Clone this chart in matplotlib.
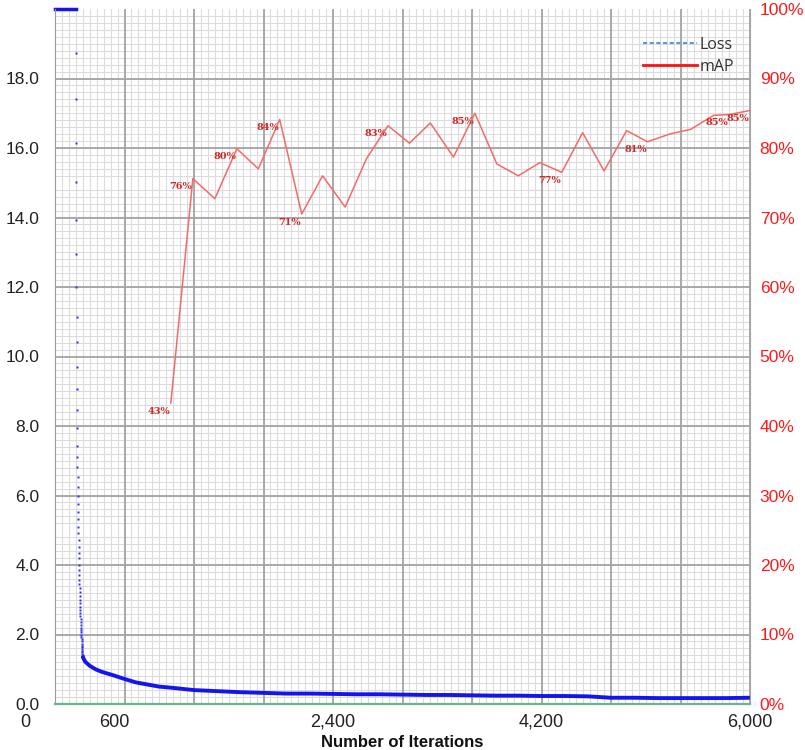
import numpy as np
import matplotlib
matplotlib.use("Agg")
import matplotlib.pyplot as plt
from matplotlib.ticker import MultipleLocator, FuncFormatter
from matplotlib.lines import Line2D

# loss above the chart top is clipped (darknet style) -> drawn at the max
loss_clip_iters = [0, 178]
loss_clip_vals = [20, 20]

# first iterations after the clip: one value per iteration
loss_start_iter = 179
loss_early = [18.73, 17.41, 16.14, 15.02, 13.93, 12.95, 12.0, 11.14, 10.42, 9.70,
              9.06, 8.46, 7.94, 7.42, 7.11, 6.82, 6.53, 6.24, 5.99, 5.76,
              5.53, 5.32, 5.09, 4.92, 4.72, 4.52, 4.35, 4.20, 4.0, 3.86,
              3.71, 3.57, 3.45, 3.33, 3.22, 3.11, 3.0, 2.90, 2.80, 2.70,
              2.61, 2.52, 2.44, 2.36, 2.28, 2.20, 2.13, 2.06, 1.99, 1.92,
              1.86, 1.80, 1.74, 1.68, 1.63, 1.58, 1.53, 1.49, 1.45, 1.41, 1.38]

# rest of the loss curve
loss_iters = [240, 260, 300, 350, 400, 500, 600, 700, 800, 900, 1000, 1200, 1400,
              1600, 1800, 2000, 2200, 2400, 2600, 2800, 3000, 3200, 3400, 3600,
              3800, 4000, 4200, 4400, 4600, 4800, 5000, 5200, 5400, 5600, 5800, 6000]
loss_vals = [1.35, 1.22, 1.10, 1.00, 0.93, 0.83, 0.72, 0.62, 0.56, 0.50, 0.47, 0.40, 0.37,
             0.34, 0.32, 0.30, 0.30, 0.29, 0.28, 0.28, 0.27, 0.26, 0.26, 0.25,
             0.24, 0.24, 0.23, 0.23, 0.22, 0.18, 0.18, 0.17, 0.17, 0.17, 0.17, 0.18]

# mAP checks
map_iters = [1000, 1190, 1380, 1570, 1755, 1940, 2130, 2310, 2505, 2690, 2875, 3060, 3240,
             3440, 3625, 3815, 4000, 4185, 4375, 4555, 4740, 4935, 5115, 5305, 5490,
             5685, 5815, 6000]
map_vals = [43.3, 75.6, 72.7, 79.9, 77.0, 84.1, 70.5, 76.0, 71.5, 78.5, 83.2, 80.7, 83.6,
            78.7, 85.0, 77.7, 76.0, 77.9, 76.5, 82.2, 76.7, 82.5, 80.9, 82.0, 82.7,
            84.7, 84.8, 85.4]
map_label_idx = [0, 1, 3, 5, 6, 10, 14, 18, 22, 26, 27]
map_label_txt = ["43%", "76%", "80%", "84%", "71%", "83%", "85%", "77%", "81%", "85%", "85%"]

xtick_shown = [2400, 4200, 6000]
# these two are drawn a bit left of their grid line
xtick_shifted = [0, 600]
xtick_shift_px = [-30, -10]

rect = [55/805, 46/750, 695/805, 695/750]
fig = plt.figure(figsize=(8.05, 7.5), dpi=100)

# background axes only for the fine grid
axbg = fig.add_axes(rect, zorder=-1)
axbg.set_xlim(0, 6000)
axbg.set_ylim(0, 20)
axbg.xaxis.set_minor_locator(MultipleLocator(60))
axbg.yaxis.set_minor_locator(MultipleLocator(0.2))
axbg.grid(which="minor", color="#dcdcdc", lw=0.8)
axbg.tick_params(which="both", length=0, labelbottom=False, labelleft=False)
for s in axbg.spines.values():
    s.set_visible(False)

ax = fig.add_axes(rect)
ax.patch.set_visible(False)
ax.set_xlim(0, 6000)
ax.set_ylim(0, 20)
ax.xaxis.set_major_locator(MultipleLocator(600))
ax.set_yticks(np.arange(0, 20, 2))
ax.grid(which="major", color="#a4a4a4", lw=1.3)
ax.set_axisbelow(True)

ax.xaxis.set_major_formatter(FuncFormatter(lambda v, p: f"{int(v):,}" if int(v) in xtick_shown else ""))
ax.yaxis.set_major_formatter(FuncFormatter(lambda v, p: f"{v:.1f}"))
ax.tick_params(which="both", length=0)
ax.tick_params(axis="x", labelsize=13, pad=7, colors="#222222")
ax.tick_params(axis="y", labelsize=12.5, pad=11, colors="#222222")
for t in ax.get_xticklabels() + ax.get_yticklabels():
    t.set_fontfamily("Liberation Sans")
for v, dx in zip(xtick_shifted, xtick_shift_px):
    ax.annotate(f"{v:,}", (v, 0), xycoords=ax.get_xaxis_transform(), xytext=(dx, -9.7),
                textcoords="offset pixels", ha="center", va="top", fontsize=13,
                fontfamily="Liberation Sans", color="#222222", annotation_clip=False)

ax.spines["top"].set_visible(False)
ax.spines["left"].set_color("#999999")
ax.spines["right"].set_color("#a4a4a4")
ax.spines["bottom"].set_color("#6db38c")
ax.spines["bottom"].set_linewidth(1.6)

ax.set_xlabel("Number of Iterations", fontsize=12, fontweight="bold",
              fontfamily="Liberation Sans", labelpad=3, color="#111111")

blue = "#1414f0"
ax.plot(loss_clip_iters, loss_clip_vals, color=blue, lw=2.5, clip_on=False)
early_it = np.arange(loss_start_iter, loss_start_iter + len(loss_early))
ax.plot(early_it, loss_early, ls="none", marker="s", ms=1.6, color="#3030f0", mec="none")
ax.plot(loss_iters, loss_vals, color=blue, lw=2.8, solid_capstyle="round")

# mAP on right axis
ax2 = ax.twinx()
ax2.set_ylim(0, 100)
ax2.set_yticks(np.arange(0, 101, 10))
ax2.yaxis.set_major_formatter(FuncFormatter(lambda v, p: f"{int(v)}%"))
ax2.tick_params(length=0, labelsize=12.5, pad=7, colors="#ff1a1a")
for t in ax2.get_yticklabels():
    t.set_fontfamily("Liberation Sans")
    t.set_verticalalignment("center_baseline")
for s in ax2.spines.values():
    s.set_visible(False)

ax2.plot(map_iters, map_vals, color="#f46a6a", lw=1.1)
for i, txt in zip(map_label_idx, map_label_txt):
    ax2.annotate(txt, (map_iters[i], map_vals[i]), xytext=(-12, -8), textcoords="offset pixels",
                 ha="center", va="center", fontsize=7, fontweight="bold",
                 fontfamily="DejaVu Serif", color="#d42424", annotation_clip=False)

handles = [Line2D([], [], color="#5b9bd5", lw=1.5, ls=(0, (2, 1.2))),
           Line2D([], [], color="#ff1010", lw=2)]
fig.legend(handles, ["Loss", "mAP"], loc="upper left", bbox_to_anchor=(643/805, 1 - 37/750),
           frameon=False, handlelength=3.4, handletextpad=0.15,
           labelspacing=0.35, borderpad=0, borderaxespad=0,
           prop={"family": "Open Sans", "size": 11.5}, labelcolor="#333333")

fig.savefig("out.png", dpi=100)
